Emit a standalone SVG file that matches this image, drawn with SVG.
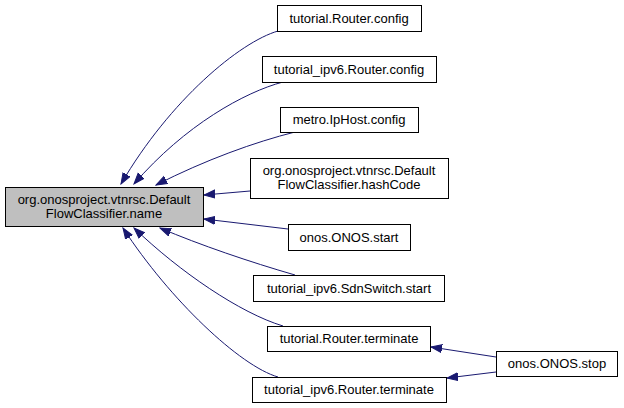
<svg xmlns="http://www.w3.org/2000/svg" width="624" height="408" viewBox="0 0 624 408">
<defs>
<style>
.n rect{fill:#fff;stroke:#000;stroke-width:1}
#main rect{fill:#bfbfbf}
text{font-family:"Liberation Sans",Arial,sans-serif;font-size:13px;fill:#000;text-anchor:middle}
.e path{fill:none;stroke:#191970;stroke-width:1}
</style>
<marker id="ah" markerUnits="userSpaceOnUse" markerWidth="12" markerHeight="10" refX="11" refY="4.5" orient="auto" viewBox="0 0 12 10">
<path d="M0,0.5 L11,4.5 L0,8.5 Z" fill="#191970" stroke="#191970"/>
</marker>
</defs>
<rect width="624" height="408" fill="#fff"/>
<g class="e">
<path d="M278,31 C240,42 170,100 121,184" marker-end="url(#ah)"/>
<path d="M283,82 C245,92 185,125 134,184" marker-end="url(#ah)"/>
<path d="M295,132 C255,142 205,160 156,185" marker-end="url(#ah)"/>
<path d="M250,191 L204,195" marker-end="url(#ah)"/>
<path d="M288,229 L204,219" marker-end="url(#ah)"/>
<path d="M295,275 C250,262 200,245 160,228" marker-end="url(#ah)"/>
<path d="M283,326 C240,313 180,272 134,228" marker-end="url(#ah)"/>
<path d="M278,377 C240,366 170,300 123,228" marker-end="url(#ah)"/>
<path d="M496,357 L431,347" marker-end="url(#ah)"/>
<path d="M496,372 L447,378" marker-end="url(#ah)"/>
</g>
<g id="main" class="n"><rect x="5.5" y="187.5" width="198" height="39"/><text x="104" y="204">org.onosproject.vtnrsc.Default</text><text x="104" y="218">FlowClassifier.name</text></g>
<g id="n1" class="n"><rect x="277.5" y="5.5" width="144" height="26"/><text x="349" y="22.5">tutorial.Router.config</text></g>
<g id="n2" class="n"><rect x="262.5" y="56.5" width="174" height="26"/><text x="349" y="73.5">tutorial_ipv6.Router.config</text></g>
<g id="n3" class="n"><rect x="280.5" y="107.5" width="138" height="25"/><text x="349" y="124">metro.IpHost.config</text></g>
<g id="n4" class="n"><rect x="250.5" y="158.5" width="198" height="40"/><text x="349" y="175">org.onosproject.vtnrsc.Default</text><text x="349" y="189">FlowClassifier.hashCode</text></g>
<g id="n5" class="n"><rect x="288.5" y="224.5" width="122" height="26"/><text x="349" y="241.5">onos.ONOS.start</text></g>
<g id="n6" class="n"><rect x="253.5" y="275.5" width="191" height="26"/><text x="349" y="292.5">tutorial_ipv6.SdnSwitch.start</text></g>
<g id="n7" class="n"><rect x="267.5" y="326.5" width="163" height="25"/><text x="349" y="343">tutorial.Router.terminate</text></g>
<g id="n8" class="n"><rect x="252.5" y="377.5" width="194" height="25"/><text x="349" y="394">tutorial_ipv6.Router.terminate</text></g>
<g id="n9" class="n"><rect x="496.5" y="351.5" width="121" height="25"/><text x="557" y="368">onos.ONOS.stop</text></g>
</svg>
